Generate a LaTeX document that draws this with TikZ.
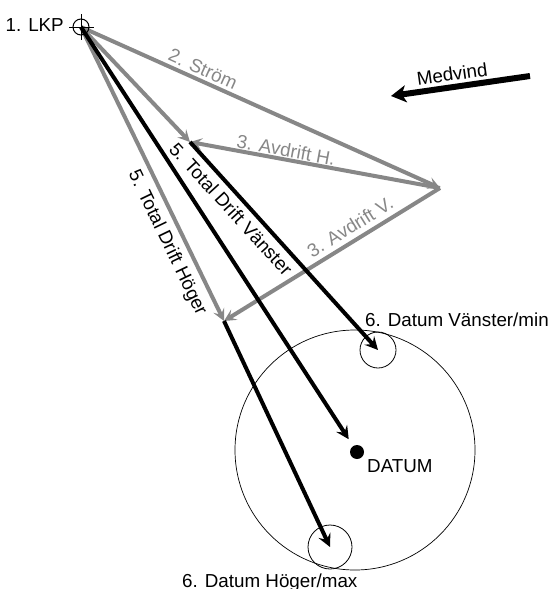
\documentclass[tikz,border=0pt]{standalone}
\usepackage{fontspec}
\setmainfont{Liberation Sans}
\usetikzlibrary{arrows.meta}
\definecolor{grayline}{RGB}{135,135,135}
\begin{document}
\begin{tikzpicture}[x=1pt,y=-1pt,
  lbl/.style={font=\fontsize{18.8}{22}\selectfont, inner sep=0pt},
  glbl/.style={lbl, text=grayline},
  gline/.style={draw=grayline, line width=4pt, -{Stealth[length=12pt,width=12pt,inset=5pt]}},
  bline/.style={draw=black, line width=4pt, -{Stealth[length=13pt,width=13pt,inset=5pt]}},
  ring/.style={draw, circle, inner sep=0pt},
  ]
\useasboundingbox (0,0) rectangle (552,589);

\coordinate (LKP) at (81,27);
\coordinate (S) at (440,188);
\coordinate (H) at (190,142);
\coordinate (V) at (224,321);

% big circle and small circles
\node[ring, minimum size=240pt, line width=0.7pt] (big) at (355,450) {};
\node[ring, minimum size=36pt, line width=0.8pt] (DV) at (378,350) {};
\node[ring, minimum size=44pt, line width=0.8pt] (DH) at (330,547) {};
\node[circle, fill, minimum size=14pt, inner sep=0pt] (D) at (357,452) {};

% gray lines
\draw[gline] (LKP) -- (S);
\draw[gline] (S) -- (H);
\draw[gline] (S) -- (V);
\draw[gline] (LKP) -- (H);
\draw[gline] (LKP) -- (V);

% black lines
\draw[bline] (H) -- (DV.center);
\draw[bline, shorten >=8pt] (LKP) -- (D);
\draw[bline] (V) -- (DH.center);

% Medvind
\coordinate (MW1) at (530,76);
\coordinate (MW2) at (391,96);
\draw[line width=6pt, -{Stealth[length=15pt,width=17pt,inset=4pt]}] (MW1) -- (MW2);
\node[lbl, rotate=8] (mw) at (452,74) {Medvind};

% crosshair
\node[ring, minimum size=16pt, line width=1pt] (cross) at (LKP) {};
\coordinate (cxl) at (69,27);
\coordinate (cxr) at (94,27);
\coordinate (cyt) at (81,14);
\coordinate (cyb) at (81,40);
\draw[line width=1pt] (cxl) -- (cxr);
\draw[line width=1pt] (cyt) -- (cyb);

% labels
\node[lbl, anchor=base east] (lkpl) at (64,31) {1. LKP};
\node[glbl, rotate=-24.2] (strl) at (203,69) {2. Ström};
\node[glbl, rotate=-10.4] (avhl) at (286,150) {3. Avdrift H.};
\node[glbl, rotate=31.8] (avvl) at (350,227) {3. Avdrift V.};
\node[lbl, rotate=-47.6] (tdvl) at (231,209) {5. Total Drift Vänster};
\node[lbl, rotate=-64.3] (tdhl) at (167,243) {5. Total Drift Höger};
\node[lbl, anchor=base west] (dvl) at (365,326) {6. Datum Vänster/min};
\node[lbl, anchor=base west] (dl) at (367,472) {DATUM};
\node[lbl, anchor=base west] (dhl) at (182,587) {6. Datum Höger/max};
\end{tikzpicture}
\end{document}
